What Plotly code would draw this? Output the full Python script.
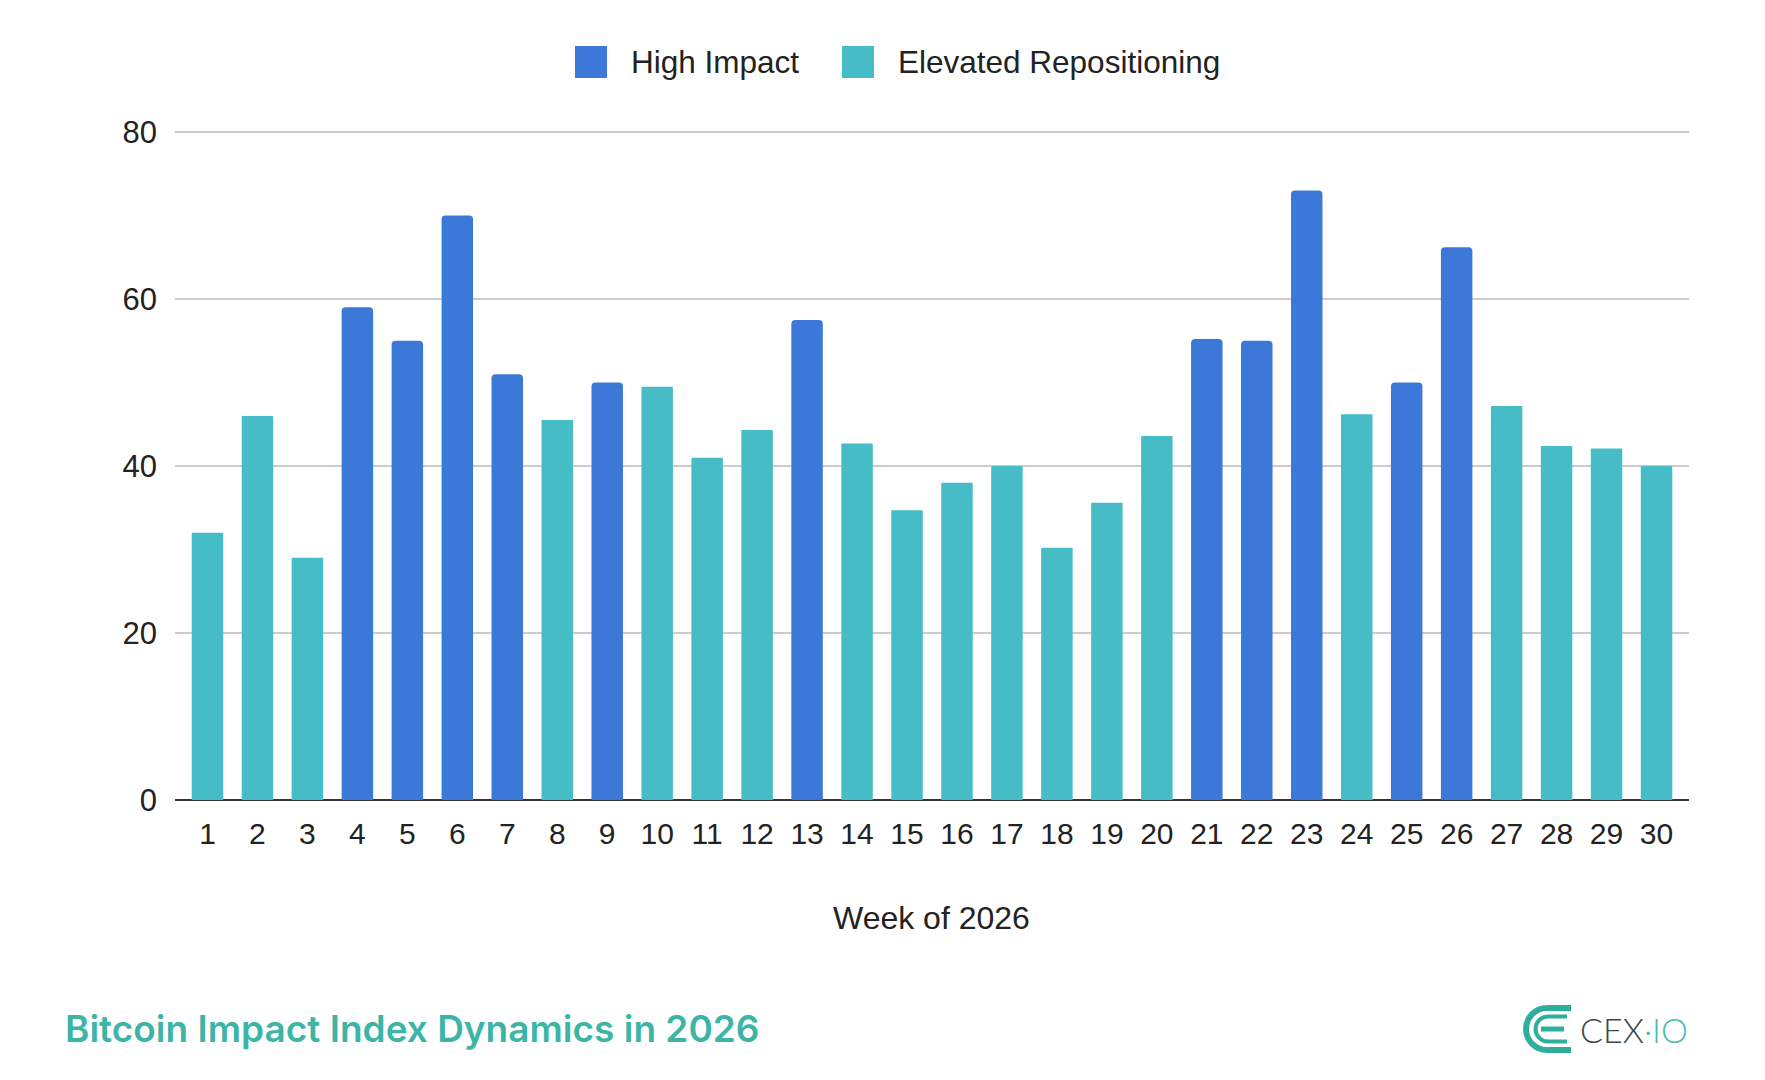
import plotly.graph_objects as go

# ---------------- data ----------------
weeks = list(range(1, 31))
index_values = [32, 46, 29, 59, 55, 70, 51, 45.5, 50, 49.5,
                41, 44.3, 57.5, 42.7, 34.7, 38, 40, 30.2, 35.6, 43.6,
                55.2, 55, 73, 46.2, 50, 66.2, 47.2, 42.4, 42.1, 40]
regime = ["E", "E", "E", "H", "H", "H", "H", "E", "H", "E",
          "E", "E", "H", "E", "E", "E", "E", "E", "E", "E",
          "H", "H", "H", "E", "H", "H", "E", "E", "E", "E"]
series_names = {"H": "High Impact", "E": "Elevated Repositioning"}
series_colors = {"H": "#3c78d8", "E": "#46bdc6"}
y_ticks = [0, 20, 40, 60, 80]
x_title = "Week of 2026"
chart_title = "Bitcoin Impact Index Dynamics in 2026"

# ---------------- layout geometry ----------------
W, H = 1765, 1080
YMAX = 80.6
ML, MR, MB = 175, 76, 280
Y0_PX, Y80_PX = 800, 132
MT = int(round(Y0_PX - (Y0_PX - Y80_PX) * YMAX / 80))
PW, PH = W - ML - MR, H - MT - MB


def px(x):
    return (x - ML) / PW


def py(y):
    return (H - MB - y) / PH


FONT = "Liberation Sans, Arial, sans-serif"
TXT = "#222222"

fig = go.Figure()
for key, corner in (("E", 1), ("H", 4)):
    xs = [w for w, r in zip(weeks, regime) if r == key]
    ys = [v for v, r in zip(index_values, regime) if r == key]
    fig.add_trace(go.Bar(
        x=xs, y=ys, name=series_names[key],
        marker=dict(color=series_colors[key], line=dict(width=0), cornerradius=corner),
        width=0.63, showlegend=False,
    ))

fig.update_layout(
    width=W, height=H,
    margin=dict(l=ML, r=MR, t=MT, b=MB, pad=0),
    paper_bgcolor="white", plot_bgcolor="white",
    barmode="overlay",
    font=dict(family=FONT, color=TXT, size=30),
    showlegend=False,
)
fig.update_xaxes(
    range=[0.35, 30.65], tickmode="array", tickvals=weeks,
    ticktext=[str(w) for w in weeks], tickfont=dict(size=30, color=TXT),
    showgrid=False, zeroline=False, showline=False, ticks="", ticklabelstandoff=13,
)
fig.update_yaxes(
    range=[0, YMAX], tickmode="array", tickvals=y_ticks,
    tickfont=dict(size=31, color=TXT),
    showgrid=True, gridcolor="#cccccc", gridwidth=1.5,
    zeroline=True, zerolinecolor="#333333", zerolinewidth=2,
    showline=False, ticks="", ticklabelstandoff=17,
)

annotations = []
shapes = []

# axis title
annotations.append(dict(text=x_title, x=px(931), y=py(918), xref="paper", yref="paper",
                        showarrow=False, font=dict(size=32, color=TXT, family=FONT),
                        xanchor="center", yanchor="middle"))

# custom legend
legend_items = [("H", 575, 629), ("E", 842, 896)]
for key, sx, tx in legend_items:
    shapes.append(dict(type="rect", xref="paper", yref="paper",
                       x0=px(sx), x1=px(sx + 32), y0=py(62 + 16), y1=py(62 - 16),
                       fillcolor=series_colors[key], line=dict(width=0), layer="above"))
    annotations.append(dict(text=series_names[key], x=px(tx), y=py(62), xref="paper", yref="paper",
                            showarrow=False, font=dict(size=31.5, color=TXT, family=FONT),
                            xanchor="left", yanchor="middle"))

# bottom title
annotations.append(dict(text=chart_title, x=px(63), y=py(1028),
                        xref="paper", yref="paper", showarrow=False,
                        font=dict(size=37, color="#3db5a6", family="Inter, Roboto, sans-serif", weight=600),
                        xanchor="left", yanchor="middle"))

# logo text
annotations.append(dict(text="<span style='color:#37474f'>CEX</span><span style='color:#45bdb0'>·IO</span>",
                        x=px(1578), y=py(1029), xref="paper", yref="paper", showarrow=False,
                        font=dict(size=34, family="Lato, Open Sans, sans-serif", weight=300),
                        xanchor="left", yanchor="middle"))

# logo icon (concentric C shapes built from cubic curves)
K = 0.5523


def c_path(cx, cy, r, xend):
    d = f"M{px(xend)},{py(cy - r)} L{px(cx)},{py(cy - r)} "
    d += (f"C{px(cx - K * r)},{py(cy - r)} {px(cx - r)},{py(cy - K * r)} {px(cx - r)},{py(cy)} ")
    d += (f"C{px(cx - r)},{py(cy + K * r)} {px(cx - K * r)},{py(cy + r)} {px(cx)},{py(cy + r)} ")
    d += f"L{px(xend)},{py(cy + r)}"
    return d


teal = "#2fae9e"
shapes.append(dict(type="path", xref="paper", yref="paper", path=c_path(1547, 1029, 21, 1571),
                   line=dict(color=teal, width=6), layer="above"))
shapes.append(dict(type="path", xref="paper", yref="paper", path=c_path(1548, 1029, 12.5, 1567),
                   line=dict(color=teal, width=4), layer="above"))
shapes.append(dict(type="path", xref="paper", yref="paper",
                   path=f"M{px(1541)},{py(1029)} L{px(1564)},{py(1029)}",
                   line=dict(color=teal, width=5), layer="above"))

fig.update_layout(annotations=annotations, shapes=shapes)
fig.write_html("out.html")
